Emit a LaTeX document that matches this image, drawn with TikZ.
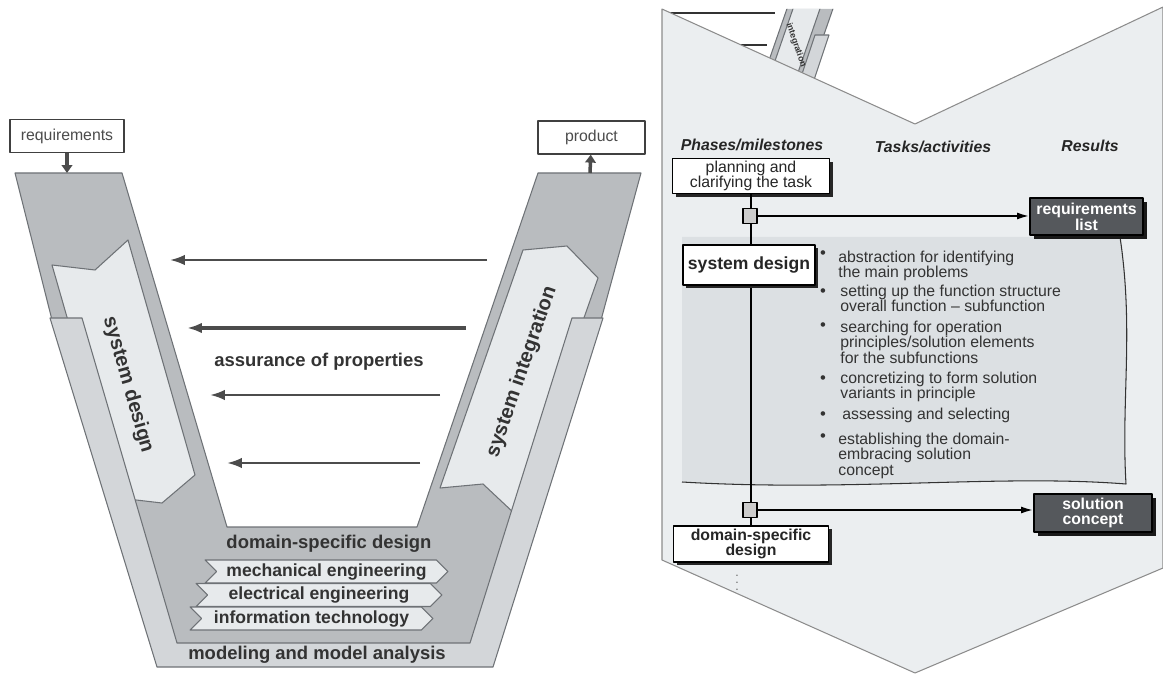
\documentclass[tikz,border=0pt]{standalone}
\usepackage{fontspec}
\setmainfont{Liberation Sans}
\usetikzlibrary{shapes.symbols, shadows, arrows.meta}

\definecolor{vdark}{HTML}{B9BCBF}
\definecolor{vlight}{HTML}{D3D6D9}
\definecolor{vpale}{HTML}{E7EAEC}
\definecolor{vline}{HTML}{6E7276}
\definecolor{vtext}{HTML}{333333}
\definecolor{panel}{HTML}{EBEEF0}
\definecolor{taskfill}{HTML}{DCE0E3}
\definecolor{resfill}{HTML}{55585C}

\tikzset{
  vpart/.style={draw=vline, line width=0.6pt},
  lbl/.style={font=\bfseries\fontsize{10.5}{12}\selectfont, text=vtext, inner sep=0pt},
  armtext/.style={font=\bfseries\fontsize{11.5}{12}\selectfont, text=vtext, inner sep=0pt},
  chev/.style={signal, signal to=east, signal from=west, draw=vline, fill=vpale,
    line width=0.6pt, minimum height=0.46cm, inner sep=0pt,
    font=\bfseries\fontsize{10}{10}\selectfont, text=vtext},
  assure/.style={-{Latex[length=8.5pt,width=6pt]}, draw=black!70},
  endbox/.style={draw=black!75, line width=0.8pt, fill=white, minimum height=0.66cm,
    inner sep=0pt, font=\fontsize{9}{10}\selectfont, text=black!70},
  inout/.style={-{Triangle[length=4.5pt,width=6pt]}, line width=2pt, draw=black!70},
  head/.style={font=\bfseries\itshape\fontsize{9}{10}\selectfont, text=black!85},
  phase/.style={draw=black, fill=white, line width=0.9pt, align=center, inner sep=0pt,
    text=black!85, drop shadow={shadow xshift=1.8pt, shadow yshift=-1.8pt, fill=black!85, opacity=1}},
  result/.style={draw=black, fill=resfill, line width=0.8pt, align=center, inner sep=0pt,
    text=white, font=\bfseries\fontsize{9}{9}\selectfont,
    drop shadow={shadow xshift=2pt, shadow yshift=-2pt, fill=black!90, opacity=1}},
  milestone/.style={draw=black, fill=black!20, line width=0.8pt, minimum width=0.28cm,
    minimum height=0.3cm, inner sep=0pt},
  flow/.style={line width=1.1pt, draw=black},
  task/.style={anchor=north west, align=left, inner sep=0pt,
    font=\fontsize{9}{8.8}\selectfont, text=black!80},
  bul/.style={inner sep=0pt, font=\fontsize{9.5}{9.5}\selectfont, text=black!80}
}

\begin{document}
\begin{tikzpicture}[x=0.02cm, y=-0.02cm, line join=round]
\useasboundingbox (0,0) rectangle (1163,675);

% V-model
\draw[vpart, fill=vdark] (15,173) -- (122,173) -- (227,527) -- (417,527) -- (538,173) -- (641,173)
  -- (601,320) -- (480,650) -- (165,650) -- (52,320) -- cycle;
\draw[vpart, fill=vpale] (52,265) -- (95,270) -- (128,240) -- (195,475) -- (162,503) -- (119,498) -- cycle;
\draw[vpart, fill=vpale] (440,488) -- (483,484) -- (515,514) -- (598,278) -- (567,246) -- (523,250) -- cycle;
\draw[vpart, fill=vlight] (50,318) -- (82,318) -- (177,643) -- (470,643) -- (572,318) -- (603,318)
  -- (493,667) -- (157,667) -- cycle;

\node[armtext, rotate=-74] (sysd) at (128,385) {system design};
\node[armtext, rotate=71] (sysi) at (522,372) {system integration};

\node[lbl] (dsd) at (329,544) {domain-specific design};
\node[chev, minimum width=4.86cm] (mech) at (326.5,571.5) {mechanical engineering};
\node[chev, minimum width=4.92cm] (elec) at (319,595) {electrical engineering};
\node[chev, minimum width=4.86cm] (info) at (311.5,618.5) {information technology};
\node[lbl] (mma) at (317,655) {modeling and model analysis};

\node[lbl] (assur) at (319,362) {assurance of properties};
\foreach \i/\y/\xs/\xe/\w in {1/260/487/170/1.3, 2/328/466/187/1.8, 3/395/440/210/1.4, 4/463/420/227/1.4}{
  \coordinate (asr\i) at (\xs,\y);
  \coordinate (asl\i) at (\xe,\y);
  \draw[assure, line width=\w pt] (asr\i) -- (asl\i);
}

\node[endbox, minimum width=2.28cm] (req) at (67,136) {requirements};
\node[endbox, minimum width=2.14cm] (prod) at (591.5,137.5) {product};
\coordinate (reqin) at (67,173);
\coordinate (prodout) at (590,173);
\draw[inout] (req) -- (reqin);
\draw[inout] (prodout) -- (prod);

% detail of the left arm
\begin{scope}
  \clip (662,9) -- (915,124) -- (1163,9) -- cycle;
  \draw[line width=1.2pt, black!80] (662,13) -- (775,13);
  \draw[line width=1.2pt, black!80] (700,45) -- (767,45);
  \draw[vpart, fill=vdark] (790,0) -- (836,0) -- (804,92) -- (758,92) -- cycle;
  \draw[vpart, fill=vpale] (796,0) -- (823,0) -- (793,87) -- (766,87) -- cycle;
  \draw[vpart, fill=vlight] (815,35) -- (829,35) -- (814,80) -- (800,80) -- cycle;
  \node[font=\bfseries\fontsize{5}{5}\selectfont, rotate=-71, text=vtext] (integ) at (796,45) {integration};
\end{scope}

% procedure
\draw[draw=black!45, fill=panel, line width=0.6pt] (662,9) -- (915,124) -- (1163,7) -- (1163,568)
  -- (915,673) -- (662,560) -- cycle;

\fill[taskfill] (682,237) -- (1120,237) .. controls (1134,330) and (1121,400) .. (1126,484)
  .. controls (1000,474) and (850,492) .. (682,482) -- cycle;
\draw[black!80, line width=0.6pt] (1120,237) .. controls (1134,330) and (1121,400) .. (1126,484)
  .. controls (1000,474) and (850,492) .. (682,482);

\node[head] (hph) at (752,145) {Phases/milestones};
\node[head] (hta) at (933,147) {Tasks/activities};
\node[head] (hre) at (1090,146) {Results};

\node[phase, minimum width=3.14cm, minimum height=0.7cm, font=\fontsize{9}{8.6}\selectfont]
  (plan) at (751,176) {planning and\\clarifying the task};
\node[phase, minimum width=3.1cm, minimum height=0.72cm, font=\bfseries\fontsize{9}{9}\selectfont]
  (dom) at (751,544) {domain-specific\\design};
\draw[flow] (plan) -- (dom);
\node[phase, minimum width=2.64cm, minimum height=0.8cm, font=\bfseries\fontsize{10}{10}\selectfont]
  (sdes) at (749,265) {system design};

\node[milestone] (ms1) at (750,216) {};
\node[milestone] (ms2) at (750,510) {};
\node[result, minimum width=2.26cm, minimum height=0.74cm] (reql) at (1086.5,216.5) {requirements\\list};
\node[result, minimum width=2.36cm, minimum height=0.76cm] (solc) at (1093,513) {solution\\concept};
\draw[flow, -{Latex[length=7pt,width=4pt]}] (ms1.east) -- (reql.west |- ms1.east);
\draw[flow, -{Latex[length=7pt,width=4pt]}] (ms2.east) -- (solc.west |- ms2.east);
\node[text=black!60, inner sep=0pt, font=\fontsize{7}{7}\selectfont] (more) at (737,578) {$\vdots$};

\foreach \i/\y in {1/255, 2/293, 3/327, 4/380, 5/416, 6/438}{
  \node[bul] (b\i) at (823,\y) {\textbullet};
}
\node[task] (t1) at (838,250.5) {abstraction for identifying\\the main problems};
\node[task] (t2) at (840,284.5) {setting up the function structure\\overall function – subfunction};
\node[task] (t3) at (840,320.5) {searching for operation\\principles/solution elements\\for the subfunctions};
\node[task] (t4) at (840,371.5) {concretizing to form solution\\variants in principle};
\node[task] (t5) at (842,407.5) {assessing and selecting};
\node[task] (t6) at (838,432.5) {establishing the domain-\\embracing solution\\concept};

\end{tikzpicture}
\end{document}
